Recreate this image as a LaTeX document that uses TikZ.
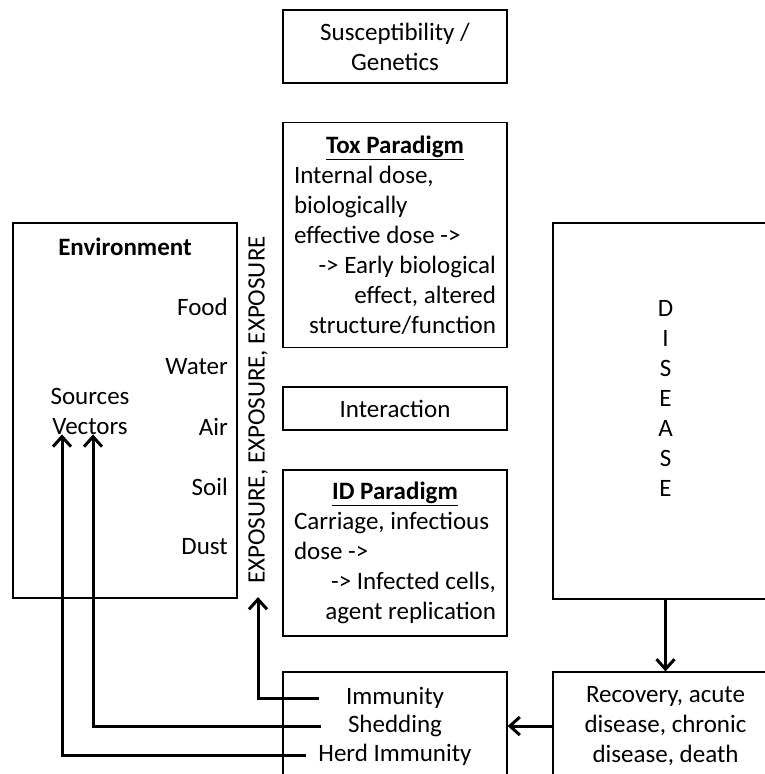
\documentclass[tikz,border=0pt]{standalone}
\usepackage{fontspec}
\setmainfont{Carlito}
\usetikzlibrary{arrows.meta}

\newcommand{\pushright}[1]{\mbox{}\hskip 0pt plus 1filll #1}
\newcommand{\pushcenter}[1]{\mbox{}\hskip 0pt plus 1filll #1\hskip 0pt plus 1filll\mbox{}}

\begin{document}
\begin{tikzpicture}[
  x=1pt, y=-1pt,
  every node/.style={font=\fontsize{25}{30}\selectfont, inner sep=0pt},
  block/.style={rectangle, draw, line width=1.2pt, minimum width=224pt},
  block_wide/.style={block, minimum width=225pt},
  line/.style={draw, line width=3pt, -{Straight Barb[length=10pt, width=18pt]}}
  ]

\useasboundingbox (0,0) rectangle (765,774);
\clip (0,0) rectangle (765,774);

% middle column
\node [block, minimum height=73pt, align=center] (suscept) at (395,46.5) {Susceptibility /\\Genetics};
\node [block, minimum height=225pt, text width=202pt, align=flush left] (tox) at (395,235)
  {\pushcenter{\underline{\textbf{Tox Paradigm}}}\\ Internal dose,\\ biologically\\ effective dose ->\\
   \pushright{-> Early biological}\\ \pushright{effect, altered}\\ \pushright{structure/function}};
\node [block, minimum height=43pt] (inter) at (395,408.5) {Interaction};
\node [block, minimum height=166pt, text width=202pt, align=flush left] (idp) at (395,553)
  {\pushcenter{\underline{\textbf{ID Paradigm}}}\\ Carriage, infectious\\ dose ->\\
   \pushright{-> Infected cells,}\\ \pushright{agent replication}};

% left column
\node [block, minimum height=375pt] (env) at (125,410.5) {};
\node (envtitle) at (125,247) {\textbf{Environment}};
\node [anchor=east] (food) at (228,307) {Food};
\node [anchor=east] (water) at (228,367) {Water};
\node [anchor=east] (air) at (228,427) {Air};
\node [anchor=east] (soil) at (228,487) {Soil};
\node [anchor=east] (dust) at (228,547) {Dust};
\node [align=center] (srcvec) at (90,411) {Sources\\Vectors};

\node [rotate=90] (expo) at (258,410) {EXPOSURE, EXPOSURE, EXPOSURE};

% right column
\node [block_wide, minimum height=376pt] (disease) at (665.5,411) {};
\node [align=center] (dtxt) at (665.5,398) {D\\I\\S\\E\\A\\S\\E};

% bottom row
\node [block, minimum height=108pt] (immbox) at (395,726) {};
\node (imm) at (395,698) {Immunity};
\node (shed) at (395,726) {Shedding};
\node (herd) at (395,755) {Herd Immunity};
\node [block_wide, minimum height=108pt, align=center] (recovery) at (665.5,726)
  {Recovery, acute\\disease, chronic\\disease, death};

\path [line] (disease) -- (recovery);
\path [line] (recovery) -- (immbox);
\path [line] ([xshift=-27pt]imm.west) -| ([yshift=-13pt]expo.west);
\path [line] ([xshift=-27pt]shed.west) -| ([xshift=3pt]srcvec.south);
\path [line] ([xshift=-12pt]herd.west) -| ([xshift=-28pt]srcvec.south);

\end{tikzpicture}
\end{document}
